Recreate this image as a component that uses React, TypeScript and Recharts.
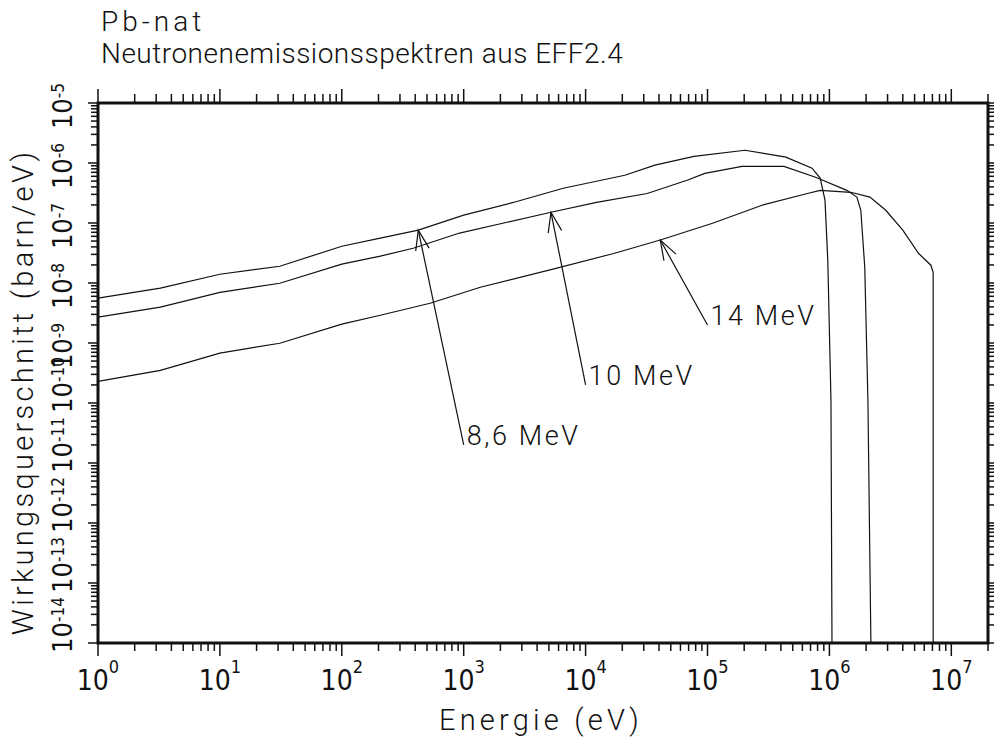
import React from 'react';
import { LineChart, Line, XAxis, YAxis, ReferenceLine, ReferenceArea } from 'recharts';

// Neutron emission spectra of natural lead (EFF-2.4), three incident energies.
// Energies in eV, cross sections in barn/eV.
const energy86 = [1, 3.25, 10, 31, 100, 207, 424, 1000, 2550, 6550, 2.1e4, 3.7e4, 7.75e4, 2.03e5, 4.4e5, 7.2e5, 8.4e5, 9.2e5, 9.7e5, 1.03e6, 1.05e6];
const sigma86 = [5.6e-9, 8.2e-9, 1.4e-8, 1.9e-8, 4.1e-8, 5.6e-8, 7.6e-8, 1.35e-7, 2.2e-7, 3.8e-7, 6.25e-7, 9.2e-7, 1.29e-6, 1.63e-6, 1.25e-6, 8.2e-7, 5.6e-7, 2.4e-7, 2.4e-8, 1.1e-10, 1e-14];

const energy10 = [1, 3.25, 10, 31, 100, 207, 385, 925, 2270, 5200, 1.23e4, 3.2e4, 6.8e4, 9.5e4, 1.92e5, 4.24e5, 7.7e5, 1.39e6, 1.68e6, 1.81e6, 1.95e6, 2.07e6, 2.19e6];
const sigma10 = [2.7e-9, 3.95e-9, 7.0e-9, 9.9e-9, 2.06e-8, 2.8e-8, 3.8e-8, 6.8e-8, 1.03e-7, 1.51e-7, 2.2e-7, 3.1e-7, 5.15e-7, 6.7e-7, 8.8e-7, 8.8e-7, 5.8e-7, 3.5e-7, 2.7e-7, 1.63e-7, 1.83e-8, 1.1e-10, 1e-14];

const energy14 = [1, 3.25, 10, 31, 100, 207, 530, 1370, 5400, 1.7e4, 4.1e4, 1.1e5, 2.8e5, 6.6e5, 8.4e5, 1.5e6, 2.15e6, 2.9e6, 4.0e6, 5.4e6, 6.8e6, 7.1e6, 7.1e6, 7.1e6];
const sigma14 = [2.3e-10, 3.5e-10, 6.8e-10, 9.9e-10, 2.06e-9, 2.9e-9, 4.6e-9, 8.5e-9, 1.7e-8, 3.1e-8, 5.2e-8, 9.9e-8, 1.98e-7, 3.1e-7, 3.5e-7, 3.25e-7, 2.7e-7, 1.63e-7, 7.6e-8, 3.1e-8, 1.98e-8, 1.5e-8, 5.2e-9, 1e-14];

// Arrow annotations: label, tail (where the text sits) and tip (on the curve)
const arrowLabels = ['8,6 MeV', '10 MeV', '14 MeV'];
const arrowTails = [[1000, 2e-11], [1e4, 2e-10], [1e5, 2e-9]];
const arrowTips = [[424, 7.6e-8], [5200, 1.51e-7], [4.1e4, 5.2e-8]];

// Axis decades and minor multipliers
const xDecades = [0, 1, 2, 3, 4, 5, 6, 7];
const yDecades = [-14, -13, -12, -11, -10, -9, -8, -7, -6, -5];
const minorSteps = [2, 3, 4, 5, 6, 7, 8, 9];

const X_MIN = 1;
const X_MAX = 2e7;
const Y_MIN = 1e-14;
const Y_MAX = 1e-5;

const zip = (xs: number[], ys: number[]) => xs.map((e, i) => ({ e, s: ys[i] }));
const series = [zip(energy86, sigma86), zip(energy10, sigma10), zip(energy14, sigma14)];

type Tick = { value: number; major: boolean; exp: number };
const buildTicks = (decades: number[], lo: number, hi: number): Tick[] => {
  const out: Tick[] = [];
  decades.forEach((d) => {
    const base = Math.pow(10, d);
    out.push({ value: base, major: true, exp: d });
    minorSteps.forEach((m) => out.push({ value: m * base, major: false, exp: d }));
  });
  return out.filter((t) => t.value >= lo * 0.999 && t.value <= hi * 1.001);
};
const xTicks = buildTicks(xDecades, X_MIN, X_MAX);
const yTicks = buildTicks(yDecades, Y_MIN, Y_MAX);

const FONT = 'Roboto, "DejaVu Sans", sans-serif';
const NUM_FONT = '"Liberation Sans Narrow", "DejaVu Sans Condensed", Roboto, sans-serif';
const INK = '#111';
const TICK_W = 1.5;

// Vertical reference line drawn only as tick marks outside the frame (bottom + top)
const xTickShape = (t: Tick) => (p: any) => {
  const x = Number(p.x1);
  const top = Math.min(Number(p.y1), Number(p.y2));
  const bottom = Math.max(Number(p.y1), Number(p.y2));
  return (
    <g>
      <line x1={x} x2={x} y1={bottom} y2={bottom + (t.major ? 13 : 8)} stroke={INK} strokeWidth={TICK_W} />
      <line x1={x} x2={x} y1={top} y2={top - (t.major ? 14 : 9)} stroke={INK} strokeWidth={TICK_W} />
      {t.major && (
        <text x={x} y={bottom + 47} textAnchor="middle" fontFamily={NUM_FONT} fontSize={28} fontWeight={300} fill={INK}>
          10
          <tspan dy={-17} fontSize={18}>{t.exp}</tspan>
        </text>
      )}
    </g>
  );
};

// Horizontal reference line drawn only as tick marks outside the frame (left + right)
const yTickShape = (t: Tick) => (p: any) => {
  const y = Number(p.y1);
  const left = Math.min(Number(p.x1), Number(p.x2));
  const right = Math.max(Number(p.x1), Number(p.x2));
  const twoDigit = Math.abs(t.exp) >= 10;
  const cy = y + (twoDigit ? -18 : 3);
  return (
    <g>
      <line x1={left} x2={left - (t.major ? 10 : 7)} y1={y} y2={y} stroke={INK} strokeWidth={TICK_W} />
      <line x1={right} x2={right + (t.major ? 10 : 7)} y1={y} y2={y} stroke={INK} strokeWidth={TICK_W} />
      {t.major && (
        <text
          transform={`translate(${left - 26}, ${cy}) rotate(-90)`}
          textAnchor="middle"
          fontFamily={NUM_FONT}
          fontSize={27}
          fontWeight={300}
          fill={INK}
        >
          10
          <tspan dy={-8} fontSize={17}>{`-${Math.abs(t.exp)}`}</tspan>
        </text>
      )}
    </g>
  );
};

// Arrow from the label position up to the curve, with an open arrowhead at the tip
const makeArrow = (label: string) => (p: any) => {
  const { x1, y1, x2, y2 } = p;
  const ang = Math.atan2(y1 - y2, x1 - x2);
  const len = 21;
  const spread = (19 * Math.PI) / 180;
  const bx1 = x2 + len * Math.cos(ang + spread);
  const by1 = y2 + len * Math.sin(ang + spread);
  const bx2 = x2 + len * Math.cos(ang - spread);
  const by2 = y2 + len * Math.sin(ang - spread);
  return (
    <g>
      <line x1={x1} y1={y1} x2={x2} y2={y2} stroke={INK} strokeWidth={1.2} />
      <polyline points={`${bx1},${by1} ${x2},${y2} ${bx2},${by2}`} fill="none" stroke={INK} strokeWidth={1.2} />
      <text x={x1 + 3} y={y1} fontFamily={FONT} fontSize={27} fontWeight={300} fill={INK} letterSpacing={2.6}>
        {label}
      </text>
    </g>
  );
};

const xCommon = {
  dataKey: 'e',
  type: 'number' as const,
  scale: 'log' as const,
  domain: [X_MIN, X_MAX],
  allowDataOverflow: true,
  tick: false,
  tickLine: false,
  axisLine: false,
};
const yCommon = {
  dataKey: 's',
  type: 'number' as const,
  scale: 'log' as const,
  domain: [Y_MIN, Y_MAX],
  allowDataOverflow: true,
  tick: false,
  tickLine: false,
  axisLine: false,
};

export default function App() {
  return (
    <div style={{ position: 'absolute', left: 0, top: 0, width: 994, height: 740, background: '#fff' }}>
      <LineChart width={994} height={740} margin={{ top: 103, right: 6, bottom: 97, left: 98 }}>
        <XAxis {...xCommon} xAxisId="b" orientation="bottom" height={0} />
        <YAxis {...yCommon} yAxisId="l" orientation="left" width={0} />
        {xTicks.map((t) => (
          <ReferenceLine key={`x${t.value}`} xAxisId="b" yAxisId="l" x={t.value} ifOverflow="visible" shape={xTickShape(t)} />
        ))}
        {yTicks.map((t) => (
          <ReferenceLine key={`y${t.value}`} xAxisId="b" yAxisId="l" y={t.value} ifOverflow="visible" shape={yTickShape(t)} />
        ))}
        {series.map((d, i) => (
          <Line
            key={i}
            xAxisId="b"
            yAxisId="l"
            data={d}
            dataKey="s"
            type="linear"
            stroke={INK}
            strokeWidth={1.2}
            dot={false}
            activeDot={false}
            isAnimationActive={false}
          />
        ))}
        {/* plot frame */}
        <ReferenceArea
          xAxisId="b"
          yAxisId="l"
          x1={X_MIN}
          x2={X_MAX}
          y1={Y_MIN}
          y2={Y_MAX}
          ifOverflow="visible"
          fill="none"
          fillOpacity={0}
          stroke={INK}
          strokeWidth={3}
          strokeOpacity={1}
        />
        {arrowLabels.map((lab, i) => (
          <ReferenceLine
            key={lab}
            xAxisId="b"
            yAxisId="l"
            segment={[
              { x: arrowTails[i][0], y: arrowTails[i][1] },
              { x: arrowTips[i][0], y: arrowTips[i][1] },
            ]}
            ifOverflow="visible"
            shape={makeArrow(lab)}
          />
        ))}
      </LineChart>
      <svg width={994} height={740} style={{ position: 'absolute', left: 0, top: 0, pointerEvents: 'none' }}>
        <text x={101} y={31} fontFamily={FONT} fontSize={28} fontWeight={300} fill={INK} letterSpacing={4}>
          Pb-nat
        </text>
        <text x={101} y={63} fontFamily={FONT} fontSize={28} fontWeight={300} fill={INK} letterSpacing={0.5}>
          Neutronenemissionsspektren aus EFF2.4
        </text>
        <text x={541} y={730} textAnchor="middle" fontFamily={FONT} fontSize={29} fontWeight={300} fill={INK} letterSpacing={4.2}>
          Energie (eV)
        </text>
        <text
          transform="translate(33, 392) rotate(-90)"
          textAnchor="middle"
          fontFamily={FONT}
          fontSize={29}
          fontWeight={300}
          fill={INK}
          letterSpacing={3.3}
        >
          Wirkungsquerschnitt (barn/eV)
        </text>
      </svg>
    </div>
  );
}
